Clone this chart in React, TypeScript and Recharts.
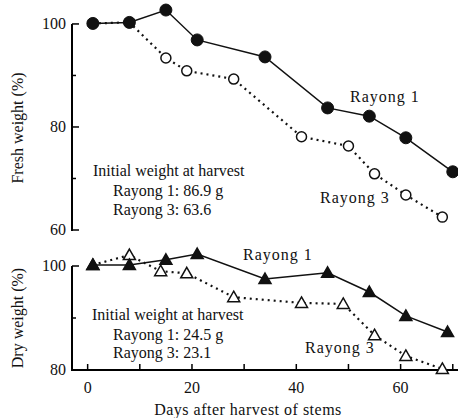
import React from 'react';
import { LineChart, Line, XAxis, YAxis } from 'recharts';

// Fresh weight (% of initial)
const freshR1 = [
  { day: 1, v: 100.1 },
  { day: 8, v: 100.3 },
  { day: 15, v: 102.7 },
  { day: 21, v: 96.9 },
  { day: 34, v: 93.6 },
  { day: 46, v: 83.7 },
  { day: 54, v: 82.1 },
  { day: 61, v: 77.9 },
  { day: 70, v: 71.3 },
];
const freshR3 = [
  { day: 1, v: 100.1 },
  { day: 8, v: 100.3 },
  { day: 15, v: 93.4 },
  { day: 19, v: 90.9 },
  { day: 28, v: 89.3 },
  { day: 41, v: 78.1 },
  { day: 50, v: 76.3 },
  { day: 55, v: 70.9 },
  { day: 61, v: 66.8 },
  { day: 68, v: 62.5 },
];

// Dry weight (% of initial)
const dryR1 = [
  { day: 1, v: 100.2 },
  { day: 8, v: 100.2 },
  { day: 15, v: 101.2 },
  { day: 21, v: 102.3 },
  { day: 34, v: 97.5 },
  { day: 46, v: 98.7 },
  { day: 54, v: 95.0 },
  { day: 61, v: 90.4 },
  { day: 69, v: 87.3 },
];
const dryR3 = [
  { day: 1, v: 100.2 },
  { day: 8, v: 102.1 },
  { day: 14, v: 99.0 },
  { day: 19, v: 98.6 },
  { day: 28, v: 94.0 },
  { day: 41, v: 92.9 },
  { day: 49, v: 92.7 },
  { day: 55, v: 86.7 },
  { day: 61, v: 82.7 },
  { day: 68, v: 80.2 },
];

const dayTicks = [0, 10, 20, 30, 40, 50, 60, 70];
const dayLabels = [0, 20, 40, 60];
const freshTicks = [60, 70, 80, 90, 100];
const freshLabels = [60, 80, 100];
const dryTicks = [80, 90, 100];
const dryLabels = [80, 100];

const FONT = '"Liberation Serif", "DejaVu Serif", serif';

// layout
const W = 458;
const Y_AXIS_W = 72;
const X_DOMAIN = [-3, 71];
const TOP_H = 245;
const TOP_MARGIN = { top: 8.5, right: 0, bottom: 15, left: 0 };
const FRESH_DOMAIN = [60, 103];
const BOT_TOP = 240;
const BOT_H = 178;
const BOT_MARGIN = { top: 13, right: 0, bottom: 0, left: 0 };
const X_AXIS_H = 48;
const DRY_DOMAIN = [80, 102.5];

// the same linear mapping the charts use, for the axis frame drawn on top
const plotLeft = Y_AXIS_W;
const plotRight = W;
const xPx = (d: number) => plotLeft + ((d - X_DOMAIN[0]) / (X_DOMAIN[1] - X_DOMAIN[0])) * (plotRight - plotLeft);
const topPlotTop = TOP_MARGIN.top;
const topPlotBottom = TOP_H - TOP_MARGIN.bottom;
const yFresh = (v: number) =>
  topPlotTop + ((FRESH_DOMAIN[1] - v) / (FRESH_DOMAIN[1] - FRESH_DOMAIN[0])) * (topPlotBottom - topPlotTop);
const botPlotTop = BOT_TOP + BOT_MARGIN.top;
const botPlotBottom = BOT_TOP + BOT_H - BOT_MARGIN.bottom - X_AXIS_H;
const yDry = (v: number) =>
  botPlotTop + ((DRY_DOMAIN[1] - v) / (DRY_DOMAIN[1] - DRY_DOMAIN[0])) * (botPlotBottom - botPlotTop);

function YLabel(props: any, labels: number[]) {
  const value = props.payload.value;
  if (labels.indexOf(value) < 0) return <g />;
  return (
    <text x={Number(props.x)} y={Number(props.y) + 5} textAnchor="end" fontSize={16} fill="#111" fontFamily={FONT}>
      {value}
    </text>
  );
}
function FreshTick(props: any) {
  return YLabel(props, freshLabels);
}
function DryTick(props: any) {
  return YLabel(props, dryLabels);
}
function DayTick(props: any) {
  const value = props.payload.value;
  if (dayLabels.indexOf(value) < 0) return <g />;
  return (
    <text x={Number(props.x)} y={Number(props.y) + 12} textAnchor="middle" fontSize={16} fill="#111" fontFamily={FONT}>
      {value}
    </text>
  );
}

function Triangle(props: any) {
  const { cx, cy, fill, index } = props;
  if (cx == null || cy == null) return <g key={index} />;
  const s = 6;
  return (
    <path
      key={index}
      d={`M${cx},${cy - s} L${cx + s},${cy + s * 0.75} L${cx - s},${cy + s * 0.75} Z`}
      fill={fill}
      stroke="#111"
      strokeWidth={1.5}
    />
  );
}

function AxisFrame() {
  return (
    <svg width={W} height={418} style={{ position: 'absolute', left: 0, top: 0, pointerEvents: 'none' }}>
      <g stroke="#000" fill="none">
        <line x1={plotLeft} y1={yFresh(60) + 1} x2={plotLeft} y2={yFresh(100)} strokeWidth={2} />
        {freshTicks.map(t => (
          <line key={`f${t}`} x1={plotLeft} y1={yFresh(t)} x2={plotLeft + (freshLabels.includes(t) ? 7 : 4)} y2={yFresh(t)} strokeWidth={1.5} />
        ))}
        <line x1={plotLeft} y1={yDry(80) + 1} x2={plotLeft} y2={yDry(100)} strokeWidth={2} />
        {dryTicks.map(t => (
          <line key={`d${t}`} x1={plotLeft} y1={yDry(t)} x2={plotLeft + (dryLabels.includes(t) ? 7 : 4)} y2={yDry(t)} strokeWidth={1.5} />
        ))}
        {dayTicks.map(t => (
          <line key={`x${t}`} x1={xPx(t)} y1={botPlotBottom} x2={xPx(t)} y2={botPlotBottom - 6} strokeWidth={1.5} />
        ))}
      </g>
    </svg>
  );
}

const txt: React.CSSProperties = {
  position: 'absolute',
  fontFamily: FONT,
  fontSize: 16,
  color: '#111',
  whiteSpace: 'nowrap',
  lineHeight: '16px',
};

export default function App() {
  return (
    <div style={{ position: 'absolute', left: 0, top: 0, width: W, height: 418, background: '#fff' }}>
      <div style={{ position: 'absolute', left: 0, top: 0 }}>
        <LineChart width={W} height={TOP_H} margin={TOP_MARGIN}>
          <XAxis type="number" dataKey="day" domain={X_DOMAIN} hide />
          <YAxis
            type="number"
            domain={FRESH_DOMAIN}
            ticks={freshTicks}
            width={Y_AXIS_W}
            axisLine={false}
            tickLine={false}
            tickSize={0}
            tickMargin={6}
            tick={FreshTick}
            interval={0}
          />
          <Line
            data={freshR3}
            dataKey="v"
            stroke="#111"
            strokeWidth={2.2}
            strokeDasharray="2 4"
            dot={{ r: 5, fill: '#fff', stroke: '#111', strokeWidth: 1.5, strokeDasharray: '0' }}
            isAnimationActive={false}
          />
          <Line
            data={freshR1}
            dataKey="v"
            stroke="#111"
            strokeWidth={1.5}
            dot={{ r: 6, fill: '#111', stroke: '#111', strokeWidth: 1 }}
            isAnimationActive={false}
          />
        </LineChart>
      </div>
      <div style={{ position: 'absolute', left: 0, top: BOT_TOP }}>
        <LineChart width={W} height={BOT_H} margin={BOT_MARGIN}>
          <XAxis
            type="number"
            dataKey="day"
            domain={X_DOMAIN}
            ticks={dayTicks}
            height={X_AXIS_H}
            axisLine={{ stroke: '#000', strokeWidth: 2 }}
            tickLine={false}
            tickSize={0}
            tickMargin={11}
            tick={DayTick}
            interval={0}
          />
          <YAxis
            type="number"
            domain={DRY_DOMAIN}
            ticks={dryTicks}
            width={Y_AXIS_W}
            axisLine={false}
            tickLine={false}
            tickSize={0}
            tickMargin={6}
            tick={DryTick}
            interval={0}
          />
          <Line
            data={dryR3}
            dataKey="v"
            stroke="#111"
            strokeWidth={2.2}
            strokeDasharray="2 4"
            dot={(p: any) => <Triangle {...p} key={p.index} fill="#fff" />}
            isAnimationActive={false}
          />
          <Line
            data={dryR1}
            dataKey="v"
            stroke="#111"
            strokeWidth={1.5}
            dot={(p: any) => <Triangle {...p} key={p.index} fill="#111" />}
            isAnimationActive={false}
          />
        </LineChart>
      </div>

      <AxisFrame />

      {/* axis titles */}
      <div style={{ ...txt, left: 18, top: 128, transform: 'translate(-50%, -50%) rotate(-90deg)' }}>Fresh weight (%)</div>
      <div style={{ ...txt, left: 18, top: 318, transform: 'translate(-50%, -50%) rotate(-90deg)' }}>Dry weight (%)</div>
      <div style={{ ...txt, left: 248, top: 410, transform: 'translate(-50%, -50%)', letterSpacing: 0.5 }}>
        Days after harvest of stems
      </div>

      {/* fresh weight annotations */}
      <div style={{ ...txt, left: 350, top: 89, letterSpacing: 1 }}>Rayong 1</div>
      <div style={{ ...txt, left: 320, top: 190, letterSpacing: 1 }}>Rayong 3</div>
      <div style={{ ...txt, left: 93, top: 163 }}>Initial weight at harvest</div>
      <div style={{ ...txt, left: 113, top: 183 }}>Rayong 1: 86.9 g</div>
      <div style={{ ...txt, left: 113, top: 202 }}>Rayong 3: 63.6</div>

      {/* dry weight annotations */}
      <div style={{ ...txt, left: 243, top: 247, letterSpacing: 1 }}>Rayong 1</div>
      <div style={{ ...txt, left: 305, top: 340, letterSpacing: 1 }}>Rayong 3</div>
      <div style={{ ...txt, left: 92, top: 307 }}>Initial weight at harvest</div>
      <div style={{ ...txt, left: 113, top: 327 }}>Rayong 1: 24.5 g</div>
      <div style={{ ...txt, left: 113, top: 345 }}>Rayong 3: 23.1</div>
    </div>
  );
}
